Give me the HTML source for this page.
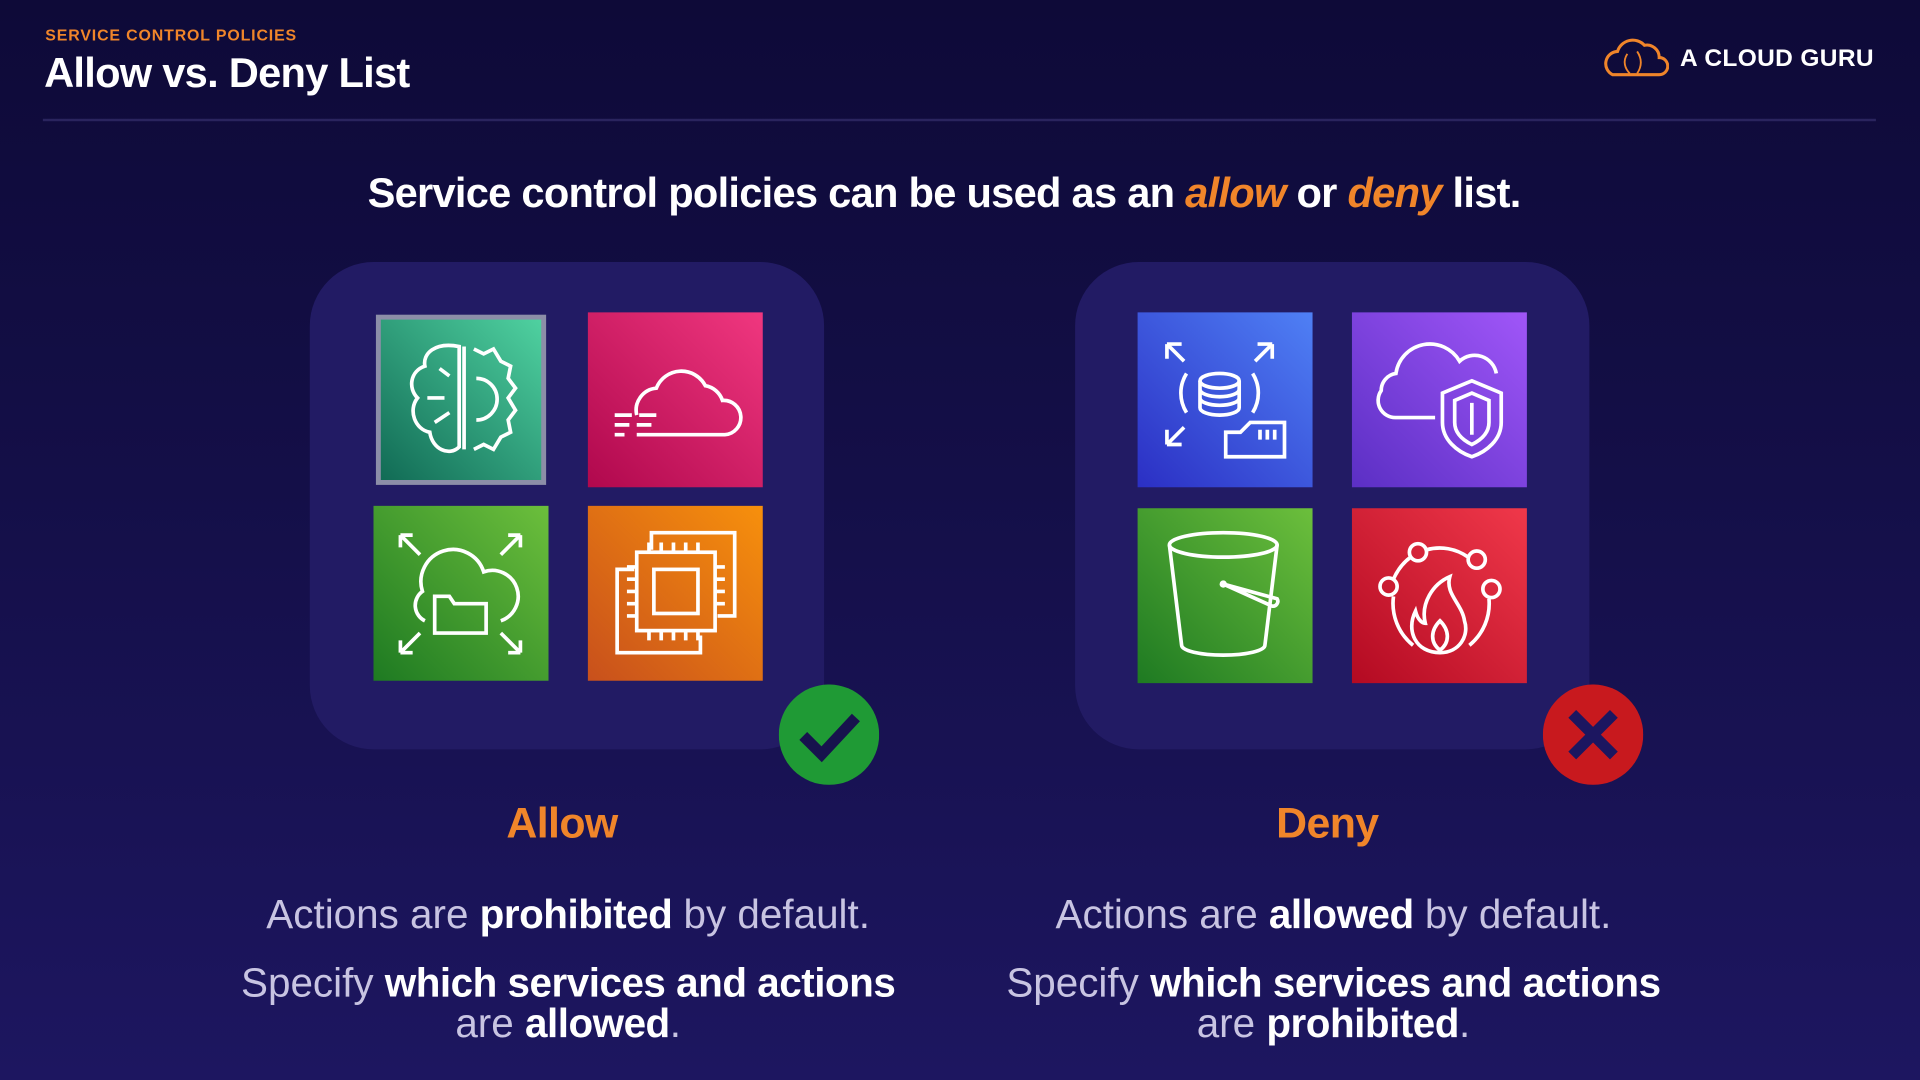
<!DOCTYPE html>
<html><head><meta charset="utf-8"><style>
html,body{margin:0;padding:0;width:1920px;height:1080px;overflow:hidden;background:#130e45}
#w{position:absolute;left:0;top:0;width:1568px;height:882px;transform:scale(1.22449);transform-origin:0 0;
background:linear-gradient(180deg,#0e0a38 0%,#140f48 45%,#1d1660 100%);font-family:"Liberation Sans",sans-serif;overflow:hidden}
.a{position:absolute}
.panel{position:absolute;background:#221b64;border-radius:52px;width:420px;height:398px;top:214px}
.ic{position:absolute;width:143px;height:143px}
.ic svg{width:143px;height:143px}
.t{position:absolute;text-align:center;color:#c8c4e2;font-size:33px;letter-spacing:0px;line-height:33px}
.t b{color:#fff;letter-spacing:-0.4px}
.o{color:#f0852a}
</style></head><body><div id="w">
<div class="a o" style="left:37px;top:21px;font-size:13px;font-weight:bold;letter-spacing:0.7px">SERVICE CONTROL POLICIES</div>
<div class="a" style="left:36px;top:41px;font-size:34px;font-weight:bold;color:#fff;letter-spacing:-0.6px">Allow vs. Deny List</div>
<svg class="a" style="left:1309px;top:30px" width="54" height="34" viewBox="0 0 54 34"><path d="M8 31 H46 A7 7 0 0 0 46 17 A10 10 0 0 0 34 7 A13 13 0 0 0 12 12 A10 10 0 0 0 8 31Z" fill="none" stroke="#f0852a" stroke-width="2.5"/><path d="M20 14 C16 20 18 26 22 30 M28 12 C32 18 32 24 28 30" fill="none" stroke="#f0852a" stroke-width="1.5"/></svg>
<div class="a" style="left:1372px;top:37px;font-size:20px;font-weight:bold;color:#fff;letter-spacing:0.3px">A CLOUD GURU</div>
<div class="a" style="left:35px;top:97px;width:1497px;height:2px;background:#2a245e"></div>
<div class="a" style="left:0;width:1542px;top:139px;text-align:center;font-size:34px;font-weight:bold;color:#fff;letter-spacing:-0.6px">Service control policies can be used as an <i class="o">allow</i> or <i class="o">deny</i> list.</div>

<div class="panel" style="left:253px"></div>
<div class="panel" style="left:878px"></div>

<div class="ic" style="left:305px;top:255px"><svg viewBox="0 0 143 143"><defs><linearGradient id="g1" x1="1" y1="0" x2="0" y2="1"><stop offset="0" stop-color="#4fd1a0"/><stop offset="1" stop-color="#116b55"/></linearGradient></defs><rect x="2" y="2" width="139" height="139" fill="#8c8ea8"/><rect x="6" y="6" width="131" height="131" fill="url(#g1)"/><g fill="none" stroke="#fff" stroke-width="3"><path d="M70 28 C50 24 40 34 42 44 C30 48 28 62 36 70 C28 80 34 96 46 98 C48 112 62 118 70 110Z"/><path d="M74 28 L74 112 M82 30 L90 34 L98 30 L104 40 L112 44 L110 54 L116 62 L110 70 L116 80 L110 88 L112 98 L104 102 L98 112 L90 108 L82 112"/><path d="M84 54 A16 16 0 0 1 84 88"/><path d="M54 46 L62 52 M44 70 L58 70 M50 90 L62 82"/></g></svg></div>
<div class="ic" style="left:480px;top:255px"><svg viewBox="0 0 143 143"><defs><linearGradient id="g2" x1="1" y1="0" x2="0" y2="1"><stop offset="0" stop-color="#f0377f"/><stop offset="1" stop-color="#b0084d"/></linearGradient></defs><rect width="143" height="143" fill="url(#g2)"/><g fill="none" stroke="#fff" stroke-width="3"><path d="M40 100 H112 A14 14 0 0 0 110 72 A18 18 0 0 0 96 60 A22 22 0 0 0 56 62 A18 18 0 0 0 40 84"/><path d="M22 84 H36 M42 84 H56 M22 92 H34 M40 92 H52 M22 100 H30"/></g></svg></div>
<div class="ic" style="left:305px;top:413px"><svg viewBox="0 0 143 143"><defs><linearGradient id="g3" x1="1" y1="0" x2="0" y2="1"><stop offset="0" stop-color="#6cbf3c"/><stop offset="1" stop-color="#1e7a22"/></linearGradient></defs><rect width="143" height="143" fill="url(#g3)"/><g fill="none" stroke="#fff" stroke-width="3"><path d="M22 24 L38 40 M22 24 V34 M22 24 H32 M120 24 L104 40 M120 24 V34 M120 24 H110 M22 120 L38 104 M22 120 V110 M22 120 H32 M120 120 L104 104 M120 120 V110 M120 120 H110"/><path d="M42 94 A14 14 0 0 1 40 70 A26 26 0 0 1 90 54 A18 18 0 0 1 104 94"/><path d="M50 104 V74 H62 L66 80 H92 V104Z"/></g></svg></div>
<div class="ic" style="left:480px;top:413px"><svg viewBox="0 0 143 143"><defs><linearGradient id="g4" x1="1" y1="0" x2="0" y2="1"><stop offset="0" stop-color="#f7900c"/><stop offset="1" stop-color="#c8501c"/></linearGradient></defs><rect width="143" height="143" fill="url(#g4)"/><g fill="none" stroke="#fff" stroke-width="3"><path d="M52 36 V22 H120 V90 H106"/><path d="M38 52 H24 V120 H92 V106"/><rect x="40" y="38" width="64" height="64"/><rect x="54" y="52" width="36" height="36"/><path d="M50 30 V38 M60 30 V38 M70 30 V38 M80 30 V38 M90 30 V38 M50 102 V110 M60 102 V110 M70 102 V110 M80 102 V110 M90 102 V110 M32 50 H40 M32 60 H40 M32 70 H40 M32 80 H40 M32 90 H40 M104 50 H112 M104 60 H112 M104 70 H112 M104 80 H112"/></g></svg></div>

<div class="ic" style="left:929px;top:255px"><svg viewBox="0 0 143 143"><defs><linearGradient id="g5" x1="1" y1="0" x2="0" y2="1"><stop offset="0" stop-color="#4f80f5"/><stop offset="1" stop-color="#2b2fc4"/></linearGradient></defs><rect width="143" height="143" fill="url(#g5)"/><g fill="none" stroke="#fff" stroke-width="3"><path d="M24 26 L38 40 M24 26 V38 M24 26 H36 M110 26 L96 40 M110 26 V38 M110 26 H98 M24 108 L38 94 M24 108 V96 M24 108 H36"/><ellipse cx="67" cy="56" rx="16" ry="6"/><path d="M51 56 V78 A16 6 0 0 0 83 78 V56 M51 63 A16 6 0 0 0 83 63 M51 70 A16 6 0 0 0 83 70"/><path d="M40 50 A30 30 0 0 0 40 82 M94 50 A30 30 0 0 1 94 82"/><path d="M72 118 V98 H84 L92 90 H120 V118Z M100 96 V104 M106 96 V104 M112 96 V104"/></g></svg></div>
<div class="ic" style="left:1104px;top:255px"><svg viewBox="0 0 143 143"><defs><linearGradient id="g6" x1="1" y1="0" x2="0" y2="1"><stop offset="0" stop-color="#a056f8"/><stop offset="1" stop-color="#5b2fc4"/></linearGradient></defs><rect width="143" height="143" fill="url(#g6)"/><g fill="none" stroke="#fff" stroke-width="3"><path d="M68 86 H36 A14 14 0 0 1 24 64 A14 14 0 0 1 36 50 A28 28 0 0 1 88 40 A18 18 0 0 1 118 50"/><path d="M98 56 L122 66 V90 C122 104 110 114 98 118 C86 114 74 104 74 90 V66Z"/><path d="M98 66 L112 72 V90 C112 98 106 104 98 108 C90 104 84 98 84 90 V72Z"/><path d="M98 74 V100"/></g></svg></div>
<div class="ic" style="left:929px;top:415px"><svg viewBox="0 0 143 143"><defs><linearGradient id="g7" x1="1" y1="0" x2="0" y2="1"><stop offset="0" stop-color="#6cbf3c"/><stop offset="1" stop-color="#1e7a22"/></linearGradient></defs><rect width="143" height="143" fill="url(#g7)"/><g fill="none" stroke="#fff" stroke-width="3"><ellipse cx="70" cy="30" rx="44" ry="10"/><path d="M26 30 L36 112 A34 8 0 0 0 104 112 L114 30"/><path d="M70 62 L110 80 A4 4 0 0 0 114 74 L70 62"/></g><circle cx="70" cy="62" r="3" fill="#fff"/></svg></div>
<div class="ic" style="left:1104px;top:415px"><svg viewBox="0 0 143 143"><defs><linearGradient id="g8" x1="1" y1="0" x2="0" y2="1"><stop offset="0" stop-color="#f0384a"/><stop offset="1" stop-color="#b30a22"/></linearGradient></defs><rect width="143" height="143" fill="url(#g8)"/><g fill="none" stroke="#fff" stroke-width="3"><circle cx="54" cy="36" r="7"/><circle cx="102" cy="42" r="7"/><circle cx="30" cy="64" r="7"/><circle cx="114" cy="66" r="7"/><path d="M61 34 A40 40 0 0 1 95 40 M34 72 A44 44 0 0 0 50 112 M112 74 A44 44 0 0 1 96 112 M34 58 A44 44 0 0 1 48 40"/><path d="M72 118 C52 118 44 100 52 84 C54 92 58 94 60 94 C56 78 66 62 80 56 C76 70 90 78 92 92 C96 104 88 118 72 118Z"/><path d="M72 116 C64 110 64 100 72 92 C80 100 80 110 72 116Z"/></g></svg></div>

<svg class="a" style="left:636px;top:559px" width="82" height="82"><circle cx="41" cy="41" r="41" fill="#1f9a35"/><path d="M20 42 L35 57 L63 27" fill="none" stroke="#17124d" stroke-width="9"/></svg>
<svg class="a" style="left:1260px;top:559px" width="82" height="82"><circle cx="41" cy="41" r="41" fill="#c8191e"/><path d="M24 24 L58 58 M58 24 L24 58" stroke="#1c1660" stroke-width="9"/></svg>

<div class="a o" style="left:359px;width:200px;top:653px;text-align:center;font-size:35px;font-weight:bold;letter-spacing:-0.5px">Allow</div>
<div class="a o" style="left:984px;width:200px;top:653px;text-align:center;font-size:35px;font-weight:bold;letter-spacing:-0.5px">Deny</div>

<div class="t" style="left:114px;width:700px;top:730px">Actions are <b>prohibited</b> by default.</div>
<div class="t" style="left:114px;width:700px;top:786px">Specify <b>which services and actions</b><br>are <b>allowed</b>.</div>
<div class="t" style="left:739px;width:700px;top:730px">Actions are <b>allowed</b> by default.</div>
<div class="t" style="left:739px;width:700px;top:786px">Specify <b>which services and actions</b><br>are <b>prohibited</b>.</div>
</div></body></html>
